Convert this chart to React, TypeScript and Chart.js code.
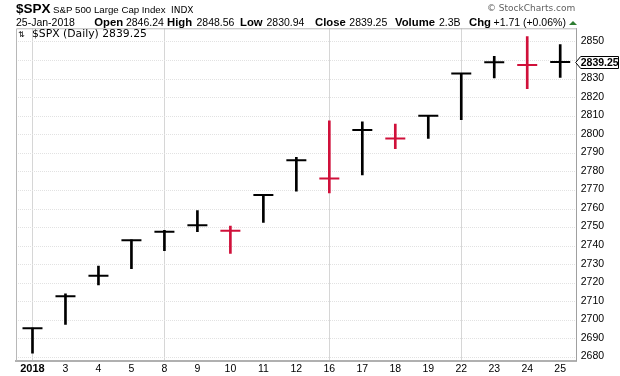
import React, { useEffect, useRef } from 'react';
import { Chart, registerables } from 'chart.js';

Chart.register(...registerables);

const LABELS = ['2018', '3', '4', '5', '8', '9', '10', '11', '12', '16', '17', '18', '19', '22', '23', '24', '25'];
const HIGH = [2695.89, 2714.37, 2729.29, 2743.45, 2748.51, 2759.14, 2750.80, 2767.56, 2787.85, 2807.54, 2807.04, 2805.83, 2810.33, 2833.03, 2842.24, 2852.97, 2848.56];
const LOW = [2682.36, 2697.77, 2719.07, 2727.92, 2737.60, 2747.86, 2736.06, 2752.78, 2769.64, 2768.64, 2778.38, 2792.56, 2798.08, 2808.12, 2830.59, 2824.81, 2830.94];
const CLOSE = [2695.81, 2713.06, 2723.99, 2743.15, 2747.71, 2751.29, 2748.23, 2767.56, 2786.24, 2776.42, 2802.56, 2798.03, 2810.30, 2832.97, 2839.13, 2837.54, 2839.25];
const PREV_CLOSE = 2673.61;
const Y_TICKS = [2680, 2690, 2700, 2710, 2720, 2730, 2740, 2750, 2760, 2770, 2780, 2790, 2800, 2810, 2820, 2830, 2840, 2850];
const WEEK_STARTS = [0, 4, 9, 13];

const UP = '#000000';
const DOWN = '#d0103a';

const COLORS = CLOSE.map((c, i) => (c < (i === 0 ? PREV_CLOSE : CLOSE[i - 1]) ? DOWN : UP));
const LAST = CLOSE[CLOSE.length - 1];

const SANS = '"Liberation Sans", Arial, sans-serif';

const headerPlugin = {
  id: 'header',
  afterDraw(chart: any) {
    const ctx = chart.ctx as CanvasRenderingContext2D;
    const area = chart.chartArea;
    ctx.save();
    // plot frame (left & top)
    ctx.strokeStyle = '#b8b8b8';
    ctx.lineWidth = 1;
    ctx.beginPath();
    ctx.moveTo(area.left + 0.5, area.bottom);
    ctx.lineTo(area.left + 0.5, area.top + 0.5);
    ctx.lineTo(area.right, area.top + 0.5);
    ctx.stroke();

    ctx.textBaseline = 'alphabetic';
    ctx.textAlign = 'left';
    ctx.fillStyle = '#000';
    ctx.font = 'bold 13.5px ' + SANS;
    ctx.fillText('$SPX', 16, 13);
    ctx.font = '9.7px ' + SANS;
    ctx.fillText('S&P 500 Large Cap Index', 53, 13);
    ctx.font = '9px "DejaVu Sans", sans-serif';
    ctx.fillText('INDX', 171, 13);

    const bold = 'bold 11.3px ' + SANS;
    const norm = '10.5px ' + SANS;
    const parts: [string, string, number][] = [
      ['25-Jan-2018', '10.5px ' + SANS, 16],
      ['Open', bold, 94.3],
      ['2846.24', norm, 125.9],
      ['High', bold, 167],
      ['2848.56', norm, 196.5],
      ['Low', bold, 240],
      ['2830.94', norm, 266.5],
      ['Close', bold, 315],
      ['2839.25', norm, 349.3],
      ['Volume', bold, 395],
      ['2.3B', norm, 439],
      ['Chg', bold, 469],
      ['+1.71 (+0.06%)', norm, 493.5],
    ];
    for (const [t, f, x] of parts) {
      ctx.font = f;
      ctx.fillText(t, x, 26);
    }
    // green up triangle
    ctx.fillStyle = '#2e7d32';
    ctx.beginPath();
    ctx.moveTo(569, 25);
    ctx.lineTo(577, 25);
    ctx.lineTo(573, 21);
    ctx.closePath();
    ctx.fill();

    // watermark
    ctx.fillStyle = '#606060';
    ctx.font = '9px "DejaVu Sans", sans-serif';
    ctx.fillText('\u00A9 StockCharts.com', 487, 11);

    // legend in plot
    ctx.fillStyle = '#000';
    ctx.font = '8px "DejaVu Sans", sans-serif';
    ctx.fillText('\u21C5', 18, 37);
    ctx.font = '10.8px "DejaVu Sans", sans-serif';
    ctx.fillText('$SPX (Daily) ' + LAST.toFixed(2), 32, 37);

    // last price box
    const yScale = chart.scales.y;
    const yc = Math.round(yScale.getPixelForValue(LAST)) + 0.5;
    const x0 = area.right - 1;
    ctx.beginPath();
    ctx.moveTo(x0, yc);
    ctx.lineTo(x0 + 5, yc - 6);
    ctx.lineTo(618.5, yc - 6);
    ctx.lineTo(618.5, yc + 6);
    ctx.lineTo(x0 + 5, yc + 6);
    ctx.closePath();
    ctx.fillStyle = '#fff';
    ctx.fill();
    ctx.strokeStyle = '#000';
    ctx.lineWidth = 1;
    ctx.stroke();
    ctx.fillStyle = '#000';
    ctx.font = 'bold 10.5px ' + SANS;
    ctx.textBaseline = 'middle';
    ctx.fillText(LAST.toFixed(2), x0 + 5, yc + 0.5);
    ctx.restore();
  },
};

export default function App() {
  const ref = useRef<HTMLCanvasElement>(null);
  useEffect(() => {
    document.body.style.margin = '0';
    const canvas = ref.current;
    if (!canvas) return;
    const chart = new Chart(canvas, {
      type: 'bar',
      data: {
        labels: LABELS,
        datasets: [
          {
            type: 'bar',
            data: LOW.map((l, i) => [l, HIGH[i]]) as any,
            backgroundColor: COLORS,
            borderWidth: 0,
            barThickness: 2,
          } as any,
          {
            type: 'line',
            data: CLOSE,
            showLine: false,
            pointStyle: 'line',
            pointRadius: 10,
            pointHoverRadius: 10,
            pointBorderWidth: 2,
            pointBorderColor: COLORS,
            pointBackgroundColor: COLORS,
            borderColor: COLORS,
          } as any,
        ],
      },
      options: {
        responsive: false,
        animation: false,
        events: [],
        layout: { padding: { left: 16, top: 28.3, right: 0, bottom: 0 } },
        plugins: { legend: { display: false }, tooltip: { enabled: false }, title: { display: false } },
        scales: {
          x: {
            offset: true,
            grid: {
              offset: false,
              drawTicks: false,
              color: (c: any) => (WEEK_STARTS.includes(c.index) ? '#d6d6d6' : 'rgba(0,0,0,0)'),
              lineWidth: 1,
            },
            border: { display: true, color: '#b0b0b0', width: 2 },
            ticks: {
              color: '#000',
              padding: 2,
              autoSkip: false,
              maxRotation: 0,
              font: (c: any) =>
                c.index === 0
                  ? { family: SANS, size: 11, weight: 'bold' }
                  : { family: SANS, size: 10.5 },
            },
            afterFit: (s: any) => {
              s.height = 15.3;
            },
          },
          y: {
            position: 'right',
            min: 2678.28,
            max: 2857.37,
            afterBuildTicks: (s: any) => {
              s.ticks = Y_TICKS.map((v) => ({ value: v }));
            },
            grid: { drawTicks: false, color: '#e2e2e2', lineWidth: 1 },
            border: { display: true, color: '#a0a0a0', width: 1, dash: [1, 1] },
            ticks: {
              color: '#000',
              padding: 4,
              labelOffset: -1,
              font: { family: SANS, size: 10.5 },
              callback: (v: any) => (v === 2840 ? '' : String(v)),
            },
            afterFit: (s: any) => {
              s.width = 43.3;
            },
          },
        },
      },
      plugins: [headerPlugin],
    });
    return () => chart.destroy();
  }, []);
  return (
    <div style={{ width: 620, height: 376, background: '#fff' }}>
      <canvas ref={ref} width={620} height={376} style={{ width: 620, height: 376, display: 'block' }} />
    </div>
  );
}
